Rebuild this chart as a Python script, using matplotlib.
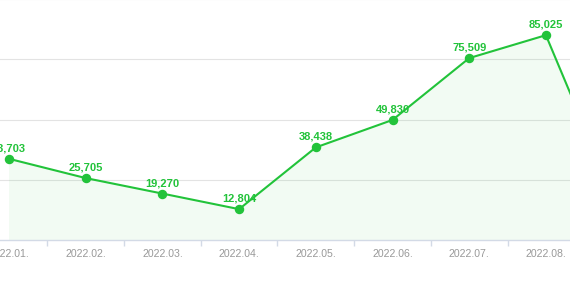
import matplotlib
matplotlib.use("Agg")
import matplotlib.pyplot as plt
import numpy as np
from matplotlib.ticker import FixedLocator

categories = ["2022.01.", "2022.02.", "2022.03.", "2022.04.", "2022.05.",
              "2022.06.", "2022.07.", "2022.08.", "2022.09."]
values = [33703, 25705, 19270, 12804, 38438, 49830, 75509, 85025, 9100]
grid_values = [25000, 50000, 75000, 100000]

plt.rcParams['font.family'] = ['Liberation Sans', 'DejaVu Sans']

green = '#22c33a'
fig = plt.figure(figsize=(5.7, 2.83), dpi=100)
ax = fig.add_axes([0, 43/283, 1, 240/283])

x = np.arange(len(categories))
ax.fill_between(x, values, 0, color=green, alpha=0.06, linewidth=0, zorder=1)
ax.plot(x, values, color=green, lw=1.5, marker='o', ms=5.8, zorder=3)

xlim = (-9/76.7, (570-9)/76.7)
for xi, v in zip(x, values):
    if xlim[0] - 0.3 <= xi <= xlim[1]:
        t = ax.annotate(f"{v:,}", (xi, v), xytext=(0, 7.5), textcoords='offset points',
                        ha='center', va='center', color=green, fontsize=8,
                        fontweight='bold', zorder=4, annotation_clip=False)
        t.set_clip_on(True)
        t.set_clip_box(fig.bbox)

ax.set_xlim(*xlim)
ax.set_ylim(0, 240/0.002409)

for g in grid_values:
    ax.axhline(g, color='#e3e3e3', lw=0.8, zorder=0)

for s in ['top', 'left', 'right']:
    ax.spines[s].set_visible(False)
ax.spines['bottom'].set_color('#d3dae6')
ax.spines['bottom'].set_linewidth(1.0)

ax.set_xticks(x[:-1])
ax.set_xticklabels(categories[:-1])
ax.xaxis.set_minor_locator(FixedLocator(x[:-2] + 0.5))
ax.tick_params(axis='x', which='major', length=0, pad=6.7, labelsize=7.6,
               labelcolor='#999999')
ax.tick_params(axis='x', which='minor', length=4.5, width=1.0, color='#d3dae6')
ax.set_yticks([])

fig.savefig("out.png", dpi=100)
